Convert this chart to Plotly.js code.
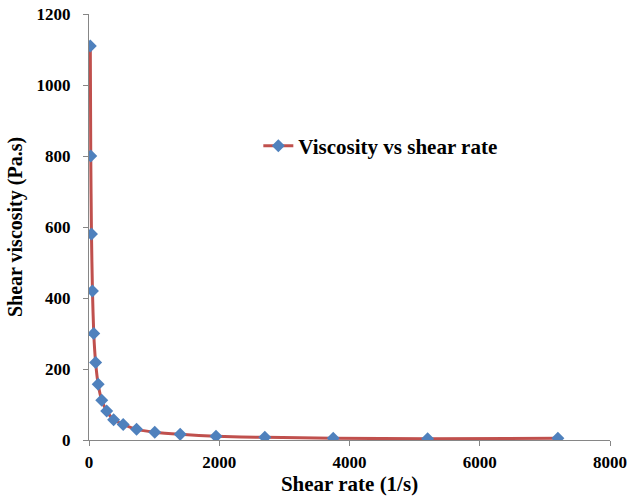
<!DOCTYPE html>
<html>
<head>
<meta charset="utf-8">
<script src="https://cdn.plot.ly/plotly-3.0.1.min.js"></script>
<style>html,body{margin:0;padding:0;background:#fff;}#chart{width:632px;height:496px;}</style>
</head>
<body>
<div id="chart"></div>
<script>
const shearRate = [20, 27, 38, 53, 73, 102, 141, 196, 272, 378, 525, 730, 1010, 1400, 1950, 2700, 3750, 5200, 7200];
const viscosity = [1110, 800, 580, 420, 300, 218, 157, 112, 82, 57, 44, 30, 22, 16, 10.5, 7.5, 5, 3.5, 5];
const seriesName = 'Viscosity vs shear rate';
const xTicks = [0, 2000, 4000, 6000, 8000];
const yTicks = [0, 200, 400, 600, 800, 1000, 1200];

const serif = 'Liberation Serif, Times New Roman, serif';
const trace = {
  x: shearRate, y: viscosity, name: seriesName,
  type: 'scatter', mode: 'lines+markers',
  line: {color: '#C0504D', width: 3, shape: 'spline', smoothing: 0.6},
  marker: {color: '#4F81BD', symbol: 'diamond', size: 10}
};
const axisCommon = {
  showgrid: false, zeroline: false, showline: true, linecolor: '#868686', linewidth: 1,
  ticks: 'outside', ticklen: 5, tickcolor: '#868686',
  tickfont: {family: serif, size: 17, color: '#000', weight: 'bold'}
};
const layout = {
  width: 632, height: 496,
  margin: {l: 89, r: 22, t: 14, b: 56},
  paper_bgcolor: '#fff', plot_bgcolor: '#fff',
  showlegend: true,
  legend: {x: 0.325, y: 0.69, xanchor: 'left', yanchor: 'middle',
    font: {family: serif, size: 21, color: '#000', weight: 'bold'}, bgcolor: 'rgba(0,0,0,0)'},
  xaxis: Object.assign({}, axisCommon, {
    range: [0, 8000], tickvals: xTicks, ticktext: xTicks.map(String), ticklabelstandoff: 2,
    title: {text: 'Shear rate (1/s)', standoff: 2, font: {family: serif, size: 21, color: '#000', weight: 'bold'}}
  }),
  yaxis: Object.assign({}, axisCommon, {
    range: [0, 1200], tickvals: yTicks, ticktext: yTicks.map(String), ticklabelstandoff: 9,
    title: {text: 'Shear viscosity (Pa.s)', standoff: 8, font: {family: serif, size: 20, color: '#000', weight: 'bold'}}
  })
};
Plotly.newPlot('chart', [trace], layout, {staticPlot: true, displayModeBar: false});
</script>
</body>
</html>
